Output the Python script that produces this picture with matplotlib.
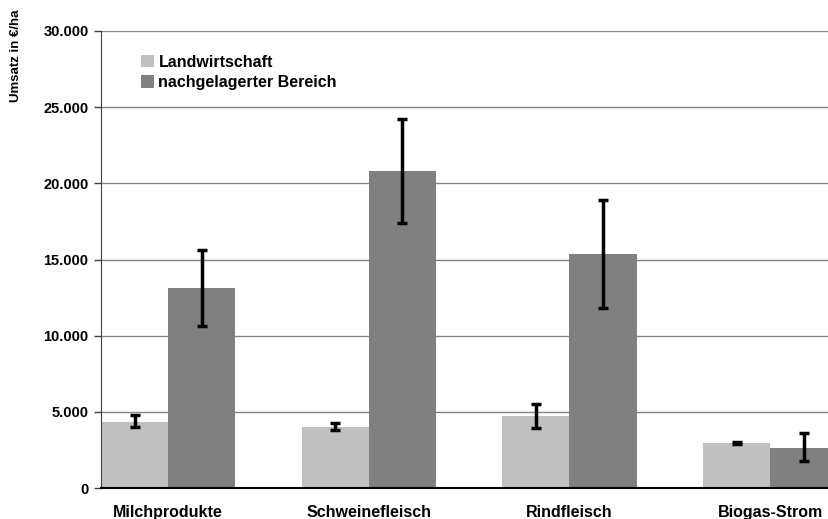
import numpy as np
import matplotlib.pyplot as plt
from matplotlib.ticker import FuncFormatter

plt.rcParams['font.family'] = ['Liberation Sans', 'DejaVu Sans']
plt.rcParams['font.weight'] = 'bold'

# Daten
kategorien = ['Milchprodukte', 'Schweinefleisch', 'Rindfleisch', 'Biogas-Strom']
landwirtschaft = [4350, 4000, 4750, 2950]
lw_err_unten = [4000, 3800, 3950, 2900]
lw_err_oben = [4800, 4250, 5500, 3000]
nachgelagert = [13150, 20800, 15350, 2650]
ng_err_unten = [10650, 17400, 11800, 1800]
ng_err_oben = [15650, 24200, 18900, 3600]

x = np.arange(len(kategorien))
w = 0.335

fig = plt.figure(figsize=(8.29, 5.19), dpi=100)
ax = fig.add_axes([101 / 829, 31 / 519, 1 - 101 / 829, (488 - 31) / 519])

ax.set_axisbelow(True)
ax.yaxis.grid(True, color='#868686', lw=1)

lw_yerr = [np.array(landwirtschaft) - np.array(lw_err_unten),
           np.array(lw_err_oben) - np.array(landwirtschaft)]
ng_yerr = [np.array(nachgelagert) - np.array(ng_err_unten),
           np.array(ng_err_oben) - np.array(nachgelagert)]

ax.bar(x - w / 2, landwirtschaft, w, color='#c0c0c0', label='Landwirtschaft')
ax.bar(x + w / 2, nachgelagert, w, color='#808080', label='nachgelagerter Bereich')
ax.errorbar(x - w / 2, landwirtschaft, yerr=lw_yerr, fmt='none', ecolor='black',
            elinewidth=2.5, capsize=3.5, capthick=2.5)
ax.errorbar(x + w / 2, nachgelagert, yerr=ng_yerr, fmt='none', ecolor='black',
            elinewidth=2.5, capsize=3.5, capthick=2.5)

ax.set_ylim(0, 30000)
ax.set_xlim(-w, (829 - 168) / 200.7)
ax.set_yticks(range(0, 30001, 5000))
ax.yaxis.set_major_formatter(FuncFormatter(lambda v, p: f'{int(v):,}'.replace(',', '.')))
ax.set_xticks(x)
ax.set_xticklabels(kategorien)
ax.tick_params(axis='x', length=0, pad=12, labelsize=11.5)
ax.tick_params(axis='y', length=5, width=1, labelsize=10.5, pad=4, color='#404040')

for s in ['top', 'right']:
    ax.spines[s].set_visible(False)
ax.spines['left'].set_color('#404040')
ax.spines['bottom'].set_color('black')
ax.spines['bottom'].set_linewidth(1.5)

fig.text(16 / 829, 1 - 9 / 519, 'Umsatz in €/ha', rotation=90, ha='center', va='top',
         fontsize=9.5, fontweight='bold')

ax.legend(loc='upper left', bbox_to_anchor=(0.035, 0.98), frameon=False, fontsize=11.5,
          handlelength=0.8, handleheight=0.8, handletextpad=0.3, labelspacing=0.35)

fig.savefig('out.png', dpi=100)
